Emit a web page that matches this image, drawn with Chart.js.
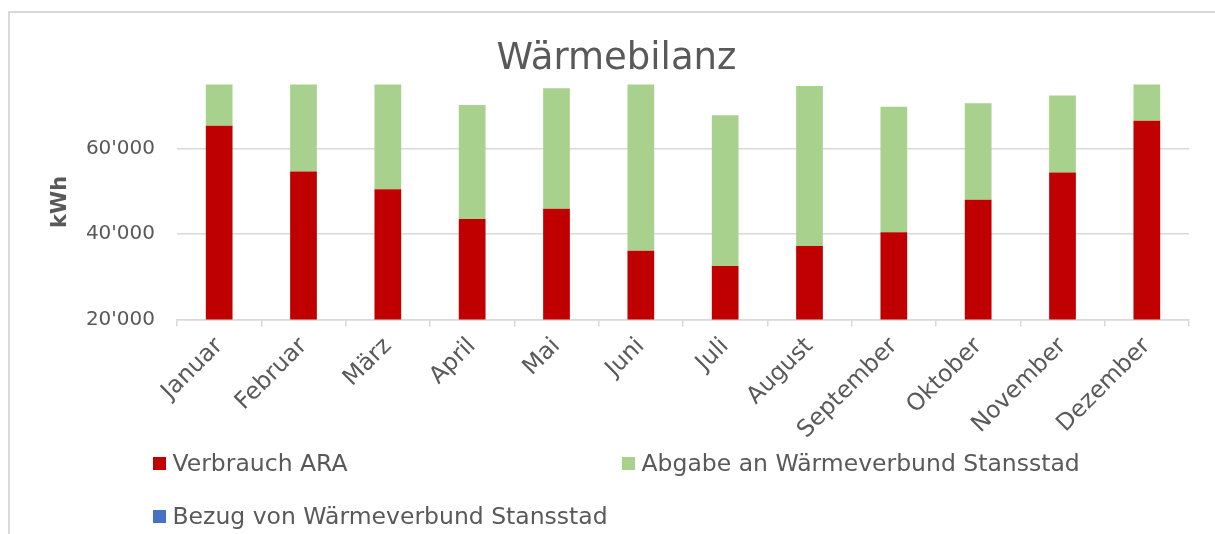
<!DOCTYPE html>
<html><head><meta charset="utf-8">
<script src="https://cdn.jsdelivr.net/npm/chart.js@4"></script>
<style>
html,body{margin:0;padding:0;background:#fff;overflow:hidden}
#frame{position:absolute;left:8px;top:11px;width:1300px;height:600px;border-left:2px solid #d9d9d9;border-top:2px solid #d9d9d9;}
#wrap{position:absolute;left:0;top:0;width:1215px;height:534px}
</style></head><body>
<div id="frame"></div>
<div id="wrap"><canvas id="c"></canvas></div>
<script>
const months = ["Januar","Februar","März","April","Mai","Juni","Juli","August","September","Oktober","November","Dezember"];
const verbrauchARA = [65300,54600,50500,43500,45900,36100,32500,37200,40400,48000,54400,66500];
const abgabeWaermeverbund = [12000,23000,27000,26700,28200,41000,35300,37400,29400,22600,18000,10000];
const bezugWaermeverbund = [0,0,0,0,0,0,0,0,0,0,0,0];
const seriesNames = ["Verbrauch ARA","Abgabe an Wärmeverbund Stansstad","Bezug von Wärmeverbund Stansstad"];
const seriesColors = ["#C00000","#A9D18E","#4472C4"];
const yTickValues = [20000, 40000, 60000];
const yMin = 20000, yMax = 75000;

const FONT = "'DejaVu Sans', sans-serif";
const TXT = "#595959";

const legendPlugin = {
  id: 'customLegend',
  afterDraw(chart) {
    const ctx = chart.ctx;
    const slots = [[153, 463.5], [622, 463.5], [153, 516.5]];
    ctx.save();
    ctx.font = "23.5px " + FONT;
    ctx.textBaseline = 'middle';
    chart.data.datasets.forEach((ds, i) => {
      const [x, y] = slots[i];
      ctx.fillStyle = ds.backgroundColor;
      ctx.fillRect(x, y - 6.5, 13, 13);
      ctx.fillStyle = TXT;
      ctx.fillText(ds.label, x + 19.5, y + 1);
    });
    ctx.restore();
  }
};

new Chart(document.getElementById('c'), {
  type: 'bar',
  data: {
    labels: months,
    datasets: [
      {label: seriesNames[0], data: verbrauchARA, backgroundColor: seriesColors[0]},
      {label: seriesNames[1], data: abgabeWaermeverbund, backgroundColor: seriesColors[1]},
      {label: seriesNames[2], data: bezugWaermeverbund, backgroundColor: seriesColors[2]}
    ]
  },
  options: {
    responsive: true,
    maintainAspectRatio: false,
    animation: false,
    datasets: {bar: {categoryPercentage: 1, barPercentage: 0.317, borderWidth: 0}},
    layout: {padding: {left: 44, right: 26, top: 0, bottom: 0}},
    plugins: {
      legend: {display: false},
      tooltip: {enabled: false},
      title: {display: true, text: 'Wärmebilanz', color: TXT,
        font: {family: FONT, size: 37, weight: 'normal'}, padding: {top: 37, bottom: 3}}
    },
    scales: {
      x: {
        stacked: true,
        grid: {drawOnChartArea: false, drawTicks: true, tickLength: 7, color: '#d9d9d9', offset: true, lineWidth: 1.5},
        border: {color: '#d9d9d9', width: 1.5},
        ticks: {color: TXT, font: {family: FONT, size: 23.5}, minRotation: 45, maxRotation: 45, padding: 6, autoSkip: false},
        afterFit: s => { s.height = 534 - 319.5; }
      },
      y: {
        stacked: true,
        min: yMin, max: yMax,
        grid: {color: '#d9d9d9', drawTicks: false, lineWidth: 1.5},
        border: {display: false},
        afterBuildTicks: s => { s.ticks = yTickValues.map(v => ({value: v})); },
        ticks: {padding: 22, color: TXT,
          font: {family: FONT, size: 20},
          callback: v => String(Math.round(v)).replace(/\B(?=(\d{3})+(?!\d))/g, "'")},
        title: {display: true, text: 'kWh', color: TXT, font: {family: FONT, size: 21, weight: 'bold'}},
        afterFit: s => { s.width = 133; }
      }
    }
  },
  plugins: [legendPlugin]
});
</script>
</body></html>
